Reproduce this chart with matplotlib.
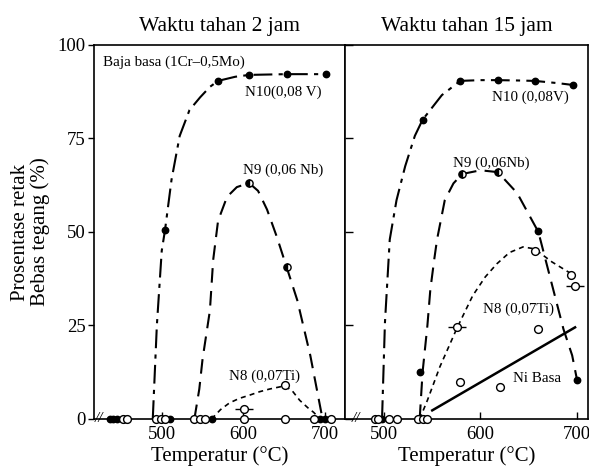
import matplotlib
matplotlib.use('Agg')
import matplotlib.pyplot as plt

plt.rcParams['font.family'] = ['Liberation Serif', 'DejaVu Serif']

# ---- Left panel: holding time 2 h ----
l_n10_curve_t = [489, 494, 500, 504, 512, 522, 534, 547, 559, 569, 590, 607, 630, 653, 680, 701]
l_n10_curve_y = [0, 25, 45, 50.5, 64, 75.7, 82.6, 86, 88.8, 90.4, 91.5, 92, 92.1, 92.2, 92.2, 92.2]
l_n10_t = [504, 569, 607, 653, 701]
l_n10_y = [50.5, 90.4, 92, 92.2, 92.2]

l_n9_curve_t = [540, 546, 550, 559, 563, 569, 580, 592, 607, 618, 629, 641, 653, 666, 682, 697]
l_n9_curve_y = [0, 8, 16, 29, 42.5, 53, 59.4, 62, 63.1, 61, 56, 48.7, 40.6, 31.8, 17, 0]
l_n9_t = [607, 653]
l_n9_y = [63.1, 40.6]

l_n8_curve_t = [561, 572, 583, 595, 608, 620, 632, 645, 651, 660, 669, 679, 686, 694]
l_n8_curve_y = [0, 2.5, 4.3, 5.5, 6.4, 7.3, 8, 8.6, 8.8, 7.5, 5, 3, 1.8, 0]
l_n8_open_t = [651]
l_n8_open_y = [9]
l_n8_bar_t = [601]
l_n8_bar_y = [2.8]

l_base_filled = [436, 440, 445, 510, 561, 694, 700]
l_base_open = [452, 458, 493, 499, 504, 540, 547, 553, 601, 651, 686, 707]

# ---- Right panel: holding time 15 h ----
r_n10_curve_t = [498, 501, 506, 513, 522, 532, 540, 560, 579, 600, 618, 640, 656, 680, 696]
r_n10_curve_y = [0, 25.7, 48, 58.5, 67.6, 75.7, 80, 86.6, 90.4, 90.6, 90.6, 90.5, 90.4, 89.8, 89.3]
r_n10_t = [540, 579, 618, 656, 696]
r_n10_y = [80, 90.4, 90.6, 90.4, 89.3]

r_n9_curve_t = [537, 540, 545, 548, 552, 555, 563, 572, 581, 600, 618, 638, 660, 675, 686, 695, 700]
r_n9_curve_y = [0, 12.5, 25, 34.5, 42.5, 48, 58.5, 63, 65.5, 66.5, 66, 60.4, 50, 35, 24, 17, 10.5]
r_n9_filled_t = [537, 660, 700]
r_n9_filled_y = [12.5, 50.2, 10.5]
r_n9_half_t = [581, 618]
r_n9_half_y = [65.5, 66]

r_n8_curve_t = [537, 545, 558, 576, 592, 605, 617, 630, 644, 656, 674, 693]
r_n8_curve_y = [0, 5, 14, 24.5, 33, 38, 41.5, 44.5, 46, 45.5, 42, 39]
r_n8_open_t = [657, 694, 579, 620, 660]
r_n8_open_y = [45, 38.5, 10, 8.5, 24]
r_n8_bar_t = [576, 698]
r_n8_bar_y = [24.5, 35.5]

r_ni_t = [550, 698]
r_ni_y = [2.3, 24.5]

r_base_filled = [498]
r_base_open = [491, 494, 505, 513, 535, 540, 545]

yticks = [0, 25, 50, 75, 100]
xticks = [500, 600, 700]

DASHDOT = (0, (9, 3, 2, 3))
DASHED = (0, (7, 4))
DOTTED = (0, (3, 2.5))


def filled(ax, t, y):
    ax.plot(t, y, 'o', ms=4.6, color='black', ls='none', clip_on=False, zorder=5)


def opened(ax, t, y):
    ax.plot(t, y, 'o', ms=5.6, mfc='white', mec='black', mew=1.0, ls='none',
            clip_on=False, zorder=6)


def half(ax, t, y):
    ax.plot(t, y, 'o', ms=5.2, color='black', fillstyle='left', mfc='black',
            mfcalt='white', mec='black', ls='none', clip_on=False, zorder=5)


def barred(ax, t, y):
    ax.plot(t, y, '_', ms=13, mew=1.0, color='black', ls='none', zorder=5)
    opened(ax, t, y)


fig = plt.figure(figsize=(5.89, 4.73), dpi=100)
ax1 = fig.add_axes([0.1596, 0.1142, 0.4261, 0.7907])
ax2 = fig.add_axes([0.5857, 0.1142, 0.4126, 0.7907])

# left panel
ax1.plot(l_n10_curve_t, l_n10_curve_y, color='black', lw=1.5, ls=DASHDOT)
ax1.plot(l_n9_curve_t, l_n9_curve_y, color='black', lw=1.5, ls=DASHED)
ax1.plot(l_n8_curve_t, l_n8_curve_y, color='black', lw=1.2, ls=DOTTED)
filled(ax1, l_n10_t, l_n10_y)
half(ax1, l_n9_t, l_n9_y)
opened(ax1, l_n8_open_t, l_n8_open_y)
barred(ax1, l_n8_bar_t, l_n8_bar_y)
opened(ax1, l_base_open, [0] * len(l_base_open))
filled(ax1, l_base_filled, [0] * len(l_base_filled))

ax1.text(428, 95.5, 'Baja basa (1Cr–0,5Mo)', fontsize=10.8, va='center')
ax1.text(602, 87.4, 'N10(0,08 V)', fontsize=10.8, va='center')
ax1.text(599, 66.6, 'N9 (0,06 Nb)', fontsize=10.8, va='center')
ax1.text(583, 11.5, 'N8 (0,07Ti)', fontsize=10.8, va='center')

# right panel
ax2.plot(r_n10_curve_t, r_n10_curve_y, color='black', lw=1.5, ls=DASHDOT)
ax2.plot(r_n9_curve_t, r_n9_curve_y, color='black', lw=1.5, ls=DASHED)
ax2.plot(r_n8_curve_t, r_n8_curve_y, color='black', lw=1.2, ls=DOTTED)
ax2.plot(r_ni_t, r_ni_y, color='black', lw=1.8)
filled(ax2, r_n10_t, r_n10_y)
filled(ax2, r_n9_filled_t, r_n9_filled_y)
half(ax2, r_n9_half_t, r_n9_half_y)
opened(ax2, r_n8_open_t, r_n8_open_y)
barred(ax2, r_n8_bar_t, r_n8_bar_y)
opened(ax2, r_base_open, [0] * len(r_base_open))
filled(ax2, r_base_filled, [0] * len(r_base_filled))

ax2.text(612, 86, 'N10 (0,08V)', fontsize=10.8, va='center')
ax2.text(571.5, 68.4, 'N9 (0,06Nb)', fontsize=10.8, va='center')
ax2.text(602.6, 29.3, 'N8 (0,07Ti)', fontsize=10.8, va='center')
ax2.text(633.7, 10.9, 'Ni Basa', fontsize=10.8, va='center')

# axes formatting
ax1.set_xlim(417, 724.5)
ax2.set_xlim(459.6, 711.4)
for ax in (ax1, ax2):
    ax.set_ylim(0, 100)
    ax.set_xticks(xticks)
    ax.set_yticks(yticks)
    ax.tick_params(axis='x', direction='in', length=5, width=1.0, pad=5, labelsize=13.5)
    for s in ax.spines.values():
        s.set_linewidth(1.2)
    ax.set_xlabel('Temperatur (°C)', fontsize=15, labelpad=2)

ax1.tick_params(axis='y', direction='out', length=4, width=1.0, pad=2, labelsize=13.5)
ax2.tick_params(axis='y', direction='in', length=6, width=1.0, labelleft=False)

# axis break marks
ax1.text(423, 0, '//', fontsize=11, ha='center', va='center', style='italic')
ax2.text(471, 0, '//', fontsize=11, ha='center', va='center', style='italic')

ax1.set_title('Waktu tahan 2 jam', fontsize=15.5, pad=10)
ax2.set_title('Waktu tahan 15 jam', fontsize=15.5, pad=10)

ax1.set_ylabel('Prosentase retak\nBebas tegang (%)', fontsize=15, linespacing=1.05)
ax1.yaxis.set_label_coords(-0.175, 0.5)

fig.savefig('out.png', dpi=100)
